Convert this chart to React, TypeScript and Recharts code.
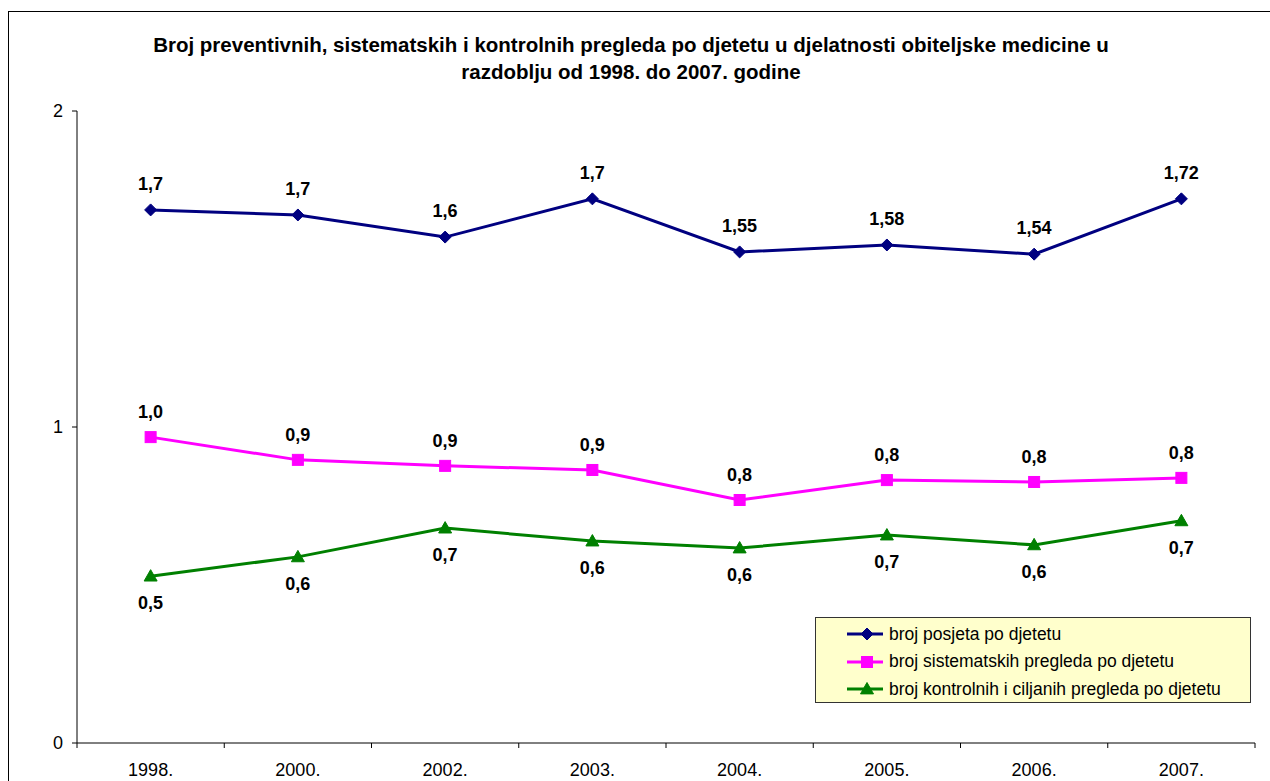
import React from 'react';
import { LineChart, Line, XAxis, YAxis, LabelList } from 'recharts';

const years = ['1998.', '2000.', '2002.', '2003.', '2004.', '2005.', '2006.', '2007.'];
const posjete = [1.687, 1.671, 1.601, 1.722, 1.554, 1.576, 1.547, 1.722];
const sistematski = [0.968, 0.896, 0.877, 0.864, 0.769, 0.832, 0.826, 0.839];
const kontrolni = [0.528, 0.589, 0.68, 0.639, 0.617, 0.658, 0.627, 0.703];
const posjeteLabels = ['1,7', '1,7', '1,6', '1,7', '1,55', '1,58', '1,54', '1,72'];
const sistematskiLabels = ['1,0', '0,9', '0,9', '0,9', '0,8', '0,8', '0,8', '0,8'];
const kontrolniLabels = ['0,5', '0,6', '0,7', '0,6', '0,6', '0,7', '0,6', '0,7'];
const yTicks = [0, 1, 2];

const seriesNames = [
  'broj posjeta po djetetu',
  'broj sistematskih pregleda po djetetu',
  'broj kontrolnih i ciljanih pregleda po djetetu',
];
const colors = ['#000080', '#FF00FF', '#008000'];

const data = years.map((year, i) => ({
  year,
  posjete: posjete[i],
  sistematski: sistematski[i],
  kontrolni: kontrolni[i],
}));

const FONT = '"Liberation Sans", Arial, sans-serif';
const PLOT_LEFT = 77;
const PLOT_RIGHT = 1255;
const BAND = (PLOT_RIGHT - PLOT_LEFT) / years.length;

function Marker({ kind, cx, cy, color }: { kind: string; cx: number; cy: number; color: string }) {
  if (cx == null || cy == null) return null;
  if (kind === 'diamond') {
    const r = 6;
    return <polygon points={`${cx},${cy - r} ${cx + r},${cy} ${cx},${cy + r} ${cx - r},${cy}`} fill={color} stroke={color} />;
  }
  if (kind === 'square') {
    const r = 5.5;
    return <rect x={cx - r} y={cy - r} width={r * 2} height={r * 2} fill={color} stroke={color} />;
  }
  const r = 6.5;
  return <polygon points={`${cx},${cy - r} ${cx + r},${cy + r * 0.75} ${cx - r},${cy + r * 0.75}`} fill={color} stroke={color} />;
}

const makeDot = (kind: string, color: string) => (props: any) =>
  <Marker key={`${kind}-${props.index}`} kind={kind} cx={props.cx} cy={props.cy} color={color} />;

const makeLabel = (labels: string[], dy: number) => (props: any) => {
  const { x, y, index } = props;
  return (
    <text
      key={index}
      x={x}
      y={y + dy}
      textAnchor="middle"
      dominantBaseline="central"
      fontFamily={FONT}
      fontWeight="bold"
      fontSize={18}
      fill="#000"
    >
      {labels[index]}
    </text>
  );
};

const XTick = (props: any) => {
  const { x, payload, index } = props;
  const y = 743;
  const left = x - BAND / 2;
  return (
    <g>
      <line x1={left} y1={y} x2={left} y2={y + 5} stroke="#000" />
      {index === years.length - 1 && <line x1={x + BAND / 2} y1={y} x2={x + BAND / 2} y2={y + 5} stroke="#000" />}
      <text x={x} y={y + 27} textAnchor="middle" dominantBaseline="central" fontFamily={FONT} fontSize={18} fill="#000">
        {payload.value}
      </text>
    </g>
  );
};

const legendKinds = ['diamond', 'square', 'triangle'];

const LegendBox = () => (
  <div
    style={{
      position: 'absolute',
      left: 815,
      top: 617,
      width: 436,
      height: 86,
      background: '#FFFFCC',
      border: '1px solid #333',
      boxSizing: 'border-box',
      fontFamily: FONT,
      fontSize: 17.5,
    }}
  >
    {seriesNames.map((name, i) => (
      <div key={name} style={{ position: 'absolute', left: 0, top: 5 + i * 27.5, height: 22, display: 'flex', alignItems: 'center' }}>
        <svg width={73} height={22} style={{ display: 'block' }}>
          <line x1={31} y1={11} x2={67} y2={11} stroke={colors[i]} strokeWidth={3} />
          <Marker kind={legendKinds[i]} cx={51} cy={11} color={colors[i]} />
        </svg>
        <span style={{ whiteSpace: 'nowrap', color: '#000' }}>{name}</span>
      </div>
    ))}
  </div>
);

export default function App() {
  return (
    <div style={{ position: 'relative', width: 1270, height: 781, overflow: 'hidden', background: '#fff' }}>
      <style>{'body{margin:0;overflow:hidden}'}</style>
      <div
        style={{
          position: 'absolute',
          left: 8,
          top: 11,
          width: 1290,
          height: 800,
          border: '1px solid #000',
        }}
      />
      <div
        style={{
          position: 'absolute',
          left: 0,
          top: 31,
          width: 1262,
          textAlign: 'center',
          fontFamily: FONT,
          fontWeight: 'bold',
          fontSize: 20.5,
          lineHeight: '27px',
          color: '#000',
        }}
      >
        Broj preventivnih, sistematskih i kontrolnih pregleda po djetetu u djelatnosti obiteljske medicine u
        <br />
        razdoblju od 1998. do 2007. godine
      </div>
      <div style={{ position: 'absolute', left: 0, top: 0 }}>
        <LineChart width={1270} height={781} data={data} margin={{ top: 111, right: 1270 - PLOT_RIGHT, bottom: 0, left: 17 }}>
          <XAxis
            dataKey="year"
            height={38}
            axisLine={{ stroke: '#000' }}
            tickLine={false}
            tickSize={0}
            tick={<XTick />}
            interval={0}
            padding={{ left: BAND / 2, right: BAND / 2 }}
          />
          <YAxis
            width={60}
            domain={[0, 2]}
            ticks={yTicks}
            axisLine={{ stroke: '#000' }}
            tickLine={{ stroke: '#000' }}
            tickSize={5}
            tickMargin={9}
            tick={{ fontFamily: FONT, fontSize: 18, fill: '#000' }}
          />
          <Line
            dataKey="posjete"
            name={seriesNames[0]}
            stroke={colors[0]}
            strokeWidth={3}
            dot={makeDot('diamond', colors[0])}
            activeDot={false}
            isAnimationActive={false}
          >
            <LabelList dataKey="posjete" content={makeLabel(posjeteLabels, -26)} />
          </Line>
          <Line
            dataKey="sistematski"
            name={seriesNames[1]}
            stroke={colors[1]}
            strokeWidth={3}
            dot={makeDot('square', colors[1])}
            activeDot={false}
            isAnimationActive={false}
          >
            <LabelList dataKey="sistematski" content={makeLabel(sistematskiLabels, -25)} />
          </Line>
          <Line
            dataKey="kontrolni"
            name={seriesNames[2]}
            stroke={colors[2]}
            strokeWidth={3}
            dot={makeDot('triangle', colors[2])}
            activeDot={false}
            isAnimationActive={false}
          >
            <LabelList dataKey="kontrolni" content={makeLabel(kontrolniLabels, 27)} />
          </Line>
        </LineChart>
      </div>
      <LegendBox />
    </div>
  );
}
